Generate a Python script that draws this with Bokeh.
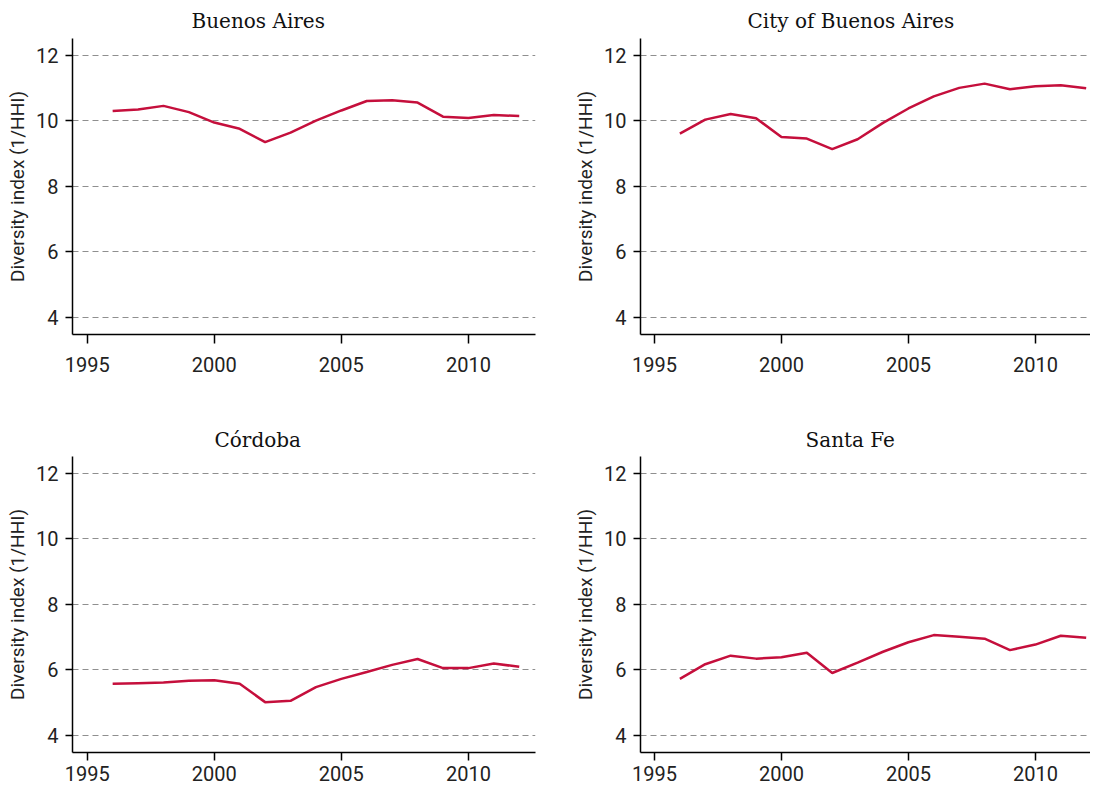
from bokeh.plotting import figure
from bokeh.layouts import column, row
from bokeh.models import Range1d, FixedTicker
from bokeh.embed import file_html
from bokeh.resources import INLINE

# ---------------- data ----------------
years = [1996, 1997, 1998, 1999, 2000, 2001, 2002, 2003, 2004, 2005,
         2006, 2007, 2008, 2009, 2010, 2011, 2012]

buenos_aires = [10.30, 10.35, 10.46, 10.27, 9.95, 9.76, 9.35, 9.64, 10.01, 10.32,
                10.61, 10.63, 10.56, 10.13, 10.09, 10.18, 10.15]
city_of_buenos_aires = [9.61, 10.04, 10.21, 10.08, 9.51, 9.46, 9.14, 9.44, 9.94, 10.38,
                        10.75, 11.01, 11.14, 10.97, 11.06, 11.09, 11.00]
cordoba = [5.57, 5.59, 5.61, 5.66, 5.68, 5.57, 5.01, 5.05, 5.47, 5.72,
           5.93, 6.15, 6.33, 6.05, 6.05, 6.19, 6.09]
santa_fe = [5.72, 6.17, 6.43, 6.34, 6.38, 6.52, 5.90, 6.22, 6.55, 6.84,
            7.06, 7.01, 6.95, 6.60, 6.77, 7.04, 6.98]

titles = ["Buenos Aires", "City of Buenos Aires", "Córdoba", "Santa Fe"]
x_ticks = [1995, 2000, 2005, 2010]
y_ticks = [4, 6, 8, 10, 12]
y_label = "Diversity index (1/HHI)"

# ---------------- style ----------------
LINE_COLOR = "#c50f3c"
SANS = "Roboto"
SERIF = "DejaVu Serif"


def make_panel(title, values, left_col, top_row, title_offset):
    if left_col:
        fw, b_left, b_right = 463, 72, 36
        x_start, x_end = 1994.42, 2012.64
    else:
        fw, b_left, b_right = 450, 65, 0
        x_start, x_end = 1994.45, 2012.17
    if top_row:
        b_top, b_bottom, x_tick, x_standoff = 36, 87, 9, 13
    else:
        b_top, b_bottom, x_tick, x_standoff = 33, 37, 8, 5

    p = figure(frame_width=fw, frame_height=296, output_backend="svg",
               toolbar_location=None, tools="",
               x_range=Range1d(x_start, x_end), y_range=Range1d(3.47, 12.52),
               min_border_left=b_left, min_border_right=b_right,
               min_border_top=b_top, min_border_bottom=b_bottom,
               title=title)
    p.outline_line_color = None
    p.background_fill_color = "white"
    p.border_fill_color = "white"

    p.title.text_font = SERIF
    p.title.text_font_size = "20px"
    p.title.text_font_style = "normal"
    p.title.text_color = "#111111"
    p.title.align = "left"
    p.title.offset = title_offset
    p.title.standoff = 12 if top_row else 9

    p.line(years, values, line_color=LINE_COLOR, line_width=2.5)

    p.xgrid.grid_line_color = None
    p.ygrid.grid_line_color = "#8f8f8f"
    p.ygrid.grid_line_dash = "6 4"
    p.ygrid.grid_line_width = 1
    p.ygrid.ticker = FixedTicker(ticks=y_ticks)

    p.xaxis.ticker = FixedTicker(ticks=x_ticks)
    p.yaxis.ticker = FixedTicker(ticks=y_ticks)
    for ax in (p.xaxis[0], p.yaxis[0]):
        ax.axis_line_color = "black"
        ax.axis_line_width = 1.5
        ax.major_tick_line_color = "black"
        ax.major_tick_line_width = 1.5
        ax.major_tick_in = 0
        ax.minor_tick_line_color = None
        ax.major_label_text_font = SANS
        ax.major_label_text_font_size = "20px"
        ax.major_label_text_color = "#222222"
    p.xaxis.major_tick_out = x_tick
    p.xaxis.major_label_standoff = x_standoff
    p.yaxis.major_tick_out = 7
    p.yaxis.major_label_standoff = 7
    p.yaxis.axis_label = y_label
    p.yaxis.axis_label_text_font = SANS
    p.yaxis.axis_label_text_font_size = "19px"
    p.yaxis.axis_label_text_font_style = "normal"
    p.yaxis.axis_label_text_color = "#222222"
    p.yaxis.axis_label_standoff = 4
    return p


series = [buenos_aires, city_of_buenos_aires, cordoba, santa_fe]
offsets = [119, 107, 142, 165]
panels = []
for i, (t, v, off) in enumerate(zip(titles, series, offsets)):
    panels.append(make_panel(t, v, left_col=(i % 2 == 0), top_row=(i < 2), title_offset=off))

layout = column(row(panels[0], panels[1]), row(panels[2], panels[3]))

open("out.html", "w").write(file_html(layout, INLINE))
